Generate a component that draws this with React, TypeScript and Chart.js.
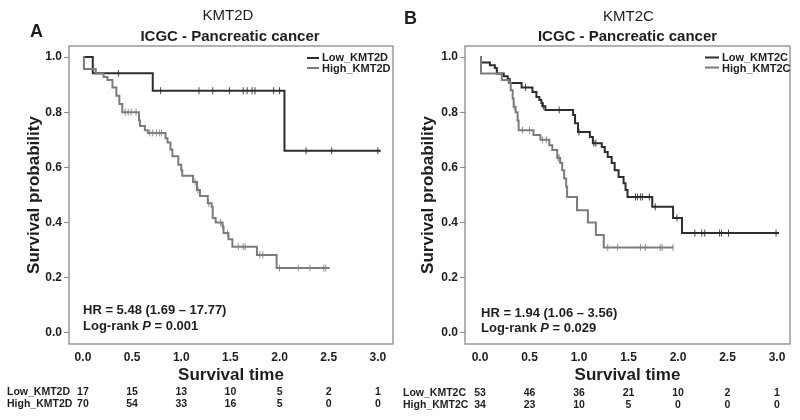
import React, { useEffect, useRef } from "react";
import { Chart, registerables } from "chart.js";

Chart.register(...registerables);

// ---------- shared axis ticks ----------
const TIME_TICKS = [0, 0.5, 1.0, 1.5, 2.0, 2.5, 3.0];
const PROB_TICKS = [0, 0.2, 0.4, 0.6, 0.8, 1.0];

// ---------- Panel A : KMT2D ----------
const KMT2D_LOW_T = [0, 0.1, 0.71, 2.05, 3.03];
const KMT2D_LOW_S = [1.0, 0.941, 0.878, 0.66, 0.66];
const KMT2D_LOW_CENSOR = [0.36, 0.79, 1.18, 1.32, 1.49, 1.63, 1.67, 1.72, 1.75, 1.94, 2.0, 2.27, 2.53, 3.0];

const KMT2D_HIGH_T = [0, 0.01, 0.13, 0.21, 0.25, 0.3, 0.34, 0.37, 0.4, 0.57, 0.58, 0.63, 0.66, 0.84, 0.86, 0.89, 0.91, 0.97, 1.0, 1.01, 1.12, 1.16, 1.19, 1.27, 1.31, 1.32, 1.35, 1.42, 1.43, 1.48, 1.52, 1.77, 1.97, 2.51];
const KMT2D_HIGH_S = [1.0, 0.957, 0.94, 0.928, 0.917, 0.89, 0.86, 0.83, 0.8, 0.77, 0.75, 0.735, 0.725, 0.706, 0.69, 0.665, 0.64, 0.61, 0.59, 0.57, 0.547, 0.518, 0.496, 0.47, 0.457, 0.417, 0.4, 0.385, 0.362, 0.34, 0.312, 0.283, 0.235, 0.235];
const KMT2D_HIGH_CENSOR = [0.43, 0.46, 0.49, 0.54, 0.68, 0.71, 0.75, 0.78, 0.8, 1.14, 1.17, 1.28, 1.4, 1.425, 1.47, 1.58, 1.63, 1.65, 1.8, 1.83, 2.0, 2.19, 2.31, 2.45, 2.47];

const KMT2D_RISK_LOW = [17, 15, 13, 10, 5, 2, 1];
const KMT2D_RISK_HIGH = [70, 54, 33, 16, 5, 0, 0];

// ---------- Panel B : KMT2C ----------
const KMT2C_LOW_T = [0, 0.01, 0.1, 0.15, 0.17, 0.24, 0.28, 0.3, 0.42, 0.53, 0.57, 0.6, 0.62, 0.63, 0.66, 0.94, 0.96, 0.99, 1.11, 1.14, 1.23, 1.26, 1.29, 1.33, 1.36, 1.4, 1.45, 1.47, 1.49, 1.74, 1.95, 2.04, 3.02];
const KMT2C_LOW_S = [1.0, 0.98, 0.97, 0.96, 0.94, 0.93, 0.92, 0.906, 0.89, 0.873, 0.855, 0.844, 0.833, 0.822, 0.808, 0.79, 0.76, 0.728, 0.71, 0.688, 0.674, 0.656, 0.638, 0.616, 0.59, 0.565, 0.543, 0.518, 0.493, 0.457, 0.417, 0.362, 0.362];
const KMT2C_LOW_CENSOR = [0.46, 0.64, 0.8, 1.0, 1.15, 1.17, 1.57, 1.59, 1.62, 1.64, 1.71, 1.77, 1.99, 2.17, 2.24, 2.27, 2.42, 2.44, 2.51, 2.99];

const KMT2C_HIGH_T = [0, 0.01, 0.22, 0.29, 0.31, 0.33, 0.34, 0.36, 0.38, 0.39, 0.54, 0.61, 0.7, 0.73, 0.78, 0.81, 0.83, 0.85, 0.87, 0.88, 0.98, 1.09, 1.17, 1.25, 1.95];
const KMT2C_HIGH_S = [1.0, 0.94, 0.917, 0.906, 0.88, 0.85, 0.82, 0.8, 0.77, 0.735, 0.717, 0.7, 0.68, 0.663, 0.634, 0.616, 0.59, 0.56, 0.53, 0.493, 0.445, 0.4, 0.355, 0.31, 0.31];
const KMT2C_HIGH_CENSOR = [0.345, 0.43, 0.5, 0.63, 0.67, 0.79, 0.8, 1.29, 1.39, 1.62, 1.67, 1.82, 1.84, 1.95];

const KMT2C_RISK_LOW = [53, 46, 36, 21, 10, 2, 1];
const KMT2C_RISK_HIGH = [34, 23, 10, 5, 0, 0, 0];

// ---------- styles ----------
const FONT = "'Liberation Sans', Arial, Helvetica, sans-serif";
const LOW_COLOR = "#2d2d2d";
const HIGH_COLOR = "#7c7c7c";
const BOX_COLOR = "#8a8a8a";
const TEXT_COLOR = "#1e1e1e";

type Panel = {
  letter: string;
  letterPos: [number, number];
  gene: string;
  genePos: [number, number];
  subtitlePos: [number, number];
  lowLabel: string;
  highLabel: string;
  lowT: number[];
  lowS: number[];
  lowCensor: number[];
  highT: number[];
  highS: number[];
  highCensor: number[];
  riskLow: number[];
  riskHigh: number[];
  hr: string;
  p: string;
  hrPos: [number, number, number];
  legend: { lineX: [number, number]; textX: number; y: [number, number] };
  riskLabelX: number;
  riskY: [number, number];
  xMin: number;
  xMax: number;
  padLeft: number;
  padRight: number;
  yWidth: number;
};

const PANELS: Panel[] = [
  {
    letter: "A",
    letterPos: [36.5, 32],
    gene: "KMT2D",
    genePos: [228, 15.5],
    subtitlePos: [230, 37],
    lowLabel: "Low_KMT2D",
    highLabel: "High_KMT2D",
    lowT: KMT2D_LOW_T,
    lowS: KMT2D_LOW_S,
    lowCensor: KMT2D_LOW_CENSOR,
    highT: KMT2D_HIGH_T,
    highS: KMT2D_HIGH_S,
    highCensor: KMT2D_HIGH_CENSOR,
    riskLow: KMT2D_RISK_LOW,
    riskHigh: KMT2D_RISK_HIGH,
    hr: "HR = 5.48 (1.69 \u2013 17.77)",
    p: "0.001",
    hrPos: [83, 310, 326],
    legend: { lineX: [307, 319], textX: 322, y: [58, 69] },
    riskLabelX: 7,
    riskY: [392, 404.5],
    xMin: -0.142,
    xMax: 3.154,
    padLeft: 24,
    padRight: 7,
    yWidth: 45,
  },
  {
    letter: "B",
    letterPos: [10.5, 19],
    gene: "KMT2C",
    genePos: [228.5, 17],
    subtitlePos: [227.5, 37],
    lowLabel: "Low_KMT2C",
    highLabel: "High_KMT2C",
    lowT: KMT2C_LOW_T,
    lowS: KMT2C_LOW_S,
    lowCensor: KMT2C_LOW_CENSOR,
    highT: KMT2C_HIGH_T,
    highS: KMT2C_HIGH_S,
    highCensor: KMT2C_HIGH_CENSOR,
    riskLow: KMT2C_RISK_LOW,
    riskHigh: KMT2C_RISK_HIGH,
    hr: "HR = 1.94 (1.06 \u2013 3.56)",
    p: "0.029",
    hrPos: [81, 313, 328],
    legend: { lineX: [305, 319], textX: 322, y: [57.5, 68.5] },
    riskLabelX: 3,
    riskY: [393, 405],
    xMin: -0.1515,
    xMax: 3.131,
    padLeft: 18.3,
    padRight: 10,
    yWidth: 46.7,
  },
];

function stepAt(T: number[], S: number[], t: number): number {
  let v = S[0];
  for (let i = 0; i < T.length; i++) if (T[i] <= t) v = S[i];
  return v;
}

function curve(T: number[], S: number[]) {
  return T.map((t, i) => ({ x: t, y: S[i] }));
}

function censorPts(T: number[], S: number[], C: number[]) {
  return C.map((t) => ({ x: t, y: stepAt(T, S, t) }));
}

function txt(
  ctx: CanvasRenderingContext2D,
  s: string,
  x: number,
  y: number,
  font: string,
  align: CanvasTextAlign = "left",
  color = TEXT_COLOR
) {
  ctx.font = font;
  ctx.textAlign = align;
  ctx.textBaseline = "middle";
  ctx.fillStyle = color;
  ctx.fillText(s, x, y);
}

function makeOverlay(p: Panel) {
  return {
    id: "kmOverlay",
    beforeDatasetsDraw(chart: any) {
      const { ctx, chartArea: a } = chart;
      ctx.save();
      ctx.strokeStyle = BOX_COLOR;
      ctx.lineWidth = 1.3;
      ctx.strokeRect(a.left, a.top, a.right - a.left, a.bottom - a.top);
      ctx.restore();
    },
    afterDraw(chart: any) {
      const ctx: CanvasRenderingContext2D = chart.ctx;
      const xs = chart.scales.x;
      ctx.save();
      // panel letter and titles
      txt(ctx, p.letter, p.letterPos[0], p.letterPos[1], `bold 18px ${FONT}`, "center");
      txt(ctx, p.gene, p.genePos[0], p.genePos[1], `15px ${FONT}`, "center");
      txt(ctx, "ICGC - Pancreatic cancer", p.subtitlePos[0], p.subtitlePos[1], `bold 15px ${FONT}`, "center");

      // legend
      const lg = p.legend;
      ctx.lineWidth = 2;
      ctx.strokeStyle = LOW_COLOR;
      ctx.beginPath();
      ctx.moveTo(lg.lineX[0], lg.y[0]);
      ctx.lineTo(lg.lineX[1], lg.y[0]);
      ctx.stroke();
      ctx.strokeStyle = HIGH_COLOR;
      ctx.beginPath();
      ctx.moveTo(lg.lineX[0], lg.y[1] - 1);
      ctx.lineTo(lg.lineX[1], lg.y[1] - 1);
      ctx.stroke();
      txt(ctx, p.lowLabel, lg.textX, lg.y[0], `bold 11px ${FONT}`);
      txt(ctx, p.highLabel, lg.textX, lg.y[1], `bold 11px ${FONT}`);

      // HR and log-rank annotation
      const f = `bold 13px ${FONT}`;
      txt(ctx, p.hr, p.hrPos[0], p.hrPos[1], f);
      let x = p.hrPos[0];
      ctx.font = f;
      const s1 = "Log-rank ";
      txt(ctx, s1, x, p.hrPos[2], f);
      x += ctx.measureText(s1).width;
      const fi = `italic bold 13px ${FONT}`;
      txt(ctx, "P", x, p.hrPos[2], fi);
      ctx.font = fi;
      x += ctx.measureText("P").width;
      txt(ctx, " = " + p.p, x, p.hrPos[2], f);

      // number-at-risk table
      const rf = `bold 10.5px ${FONT}`;
      txt(ctx, p.lowLabel, p.riskLabelX, p.riskY[0], rf);
      txt(ctx, p.highLabel, p.riskLabelX, p.riskY[1], rf);
      TIME_TICKS.forEach((t, i) => {
        const px = xs.getPixelForValue(t);
        txt(ctx, String(p.riskLow[i]), px, p.riskY[0], rf, "center");
        txt(ctx, String(p.riskHigh[i]), px, p.riskY[1], rf, "center");
      });
      ctx.restore();
    },
  };
}

function KMPanel({ p }: { p: Panel }) {
  const ref = useRef<HTMLCanvasElement | null>(null);
  useEffect(() => {
    if (!ref.current) return;
    const chart = new Chart(ref.current, {
      type: "scatter",
      data: {
        datasets: [
          {
            label: p.highLabel,
            data: curve(p.highT, p.highS),
            showLine: true,
            stepped: "before",
            borderColor: HIGH_COLOR,
            borderWidth: 2,
            pointRadius: 0,
          },
          {
            label: p.highLabel + " censored",
            data: censorPts(p.highT, p.highS, p.highCensor),
            showLine: false,
            pointStyle: "line",
            rotation: 90,
            pointRadius: 3.5,
            borderWidth: 1,
            borderColor: "#909090",
            backgroundColor: "#909090",
          },
          {
            label: p.lowLabel,
            data: curve(p.lowT, p.lowS),
            showLine: true,
            stepped: "before",
            borderColor: LOW_COLOR,
            borderWidth: 2,
            pointRadius: 0,
          },
          {
            label: p.lowLabel + " censored",
            data: censorPts(p.lowT, p.lowS, p.lowCensor),
            showLine: false,
            pointStyle: "line",
            rotation: 90,
            pointRadius: 3.5,
            borderWidth: 1,
            borderColor: "#444444",
            backgroundColor: "#444444",
          },
        ],
      } as any,
      options: {
        responsive: false,
        animation: false,
        events: [],
        devicePixelRatio: 1,
        layout: {
          padding: { left: p.padLeft, right: p.padRight, top: 46, bottom: 34.8 },
        },
        plugins: {
          legend: { display: false },
          tooltip: { enabled: false },
          title: { display: false },
        },
        scales: {
          x: {
            type: "linear",
            min: p.xMin,
            max: p.xMax,
            afterBuildTicks: (axis: any) => {
              axis.ticks = TIME_TICKS.map((v) => ({ value: v }));
            },
            afterFit: (s: any) => {
              s.height = 41.2;
            },
            grid: { display: false, drawTicks: false },
            border: { display: false },
            ticks: {
              padding: 6,
              color: TEXT_COLOR,
              font: { family: FONT, size: 12, weight: "bold" },
              callback: (v: any) => Number(v).toFixed(1),
              maxRotation: 0,
              autoSkip: false,
            },
            title: {
              display: true,
              text: "Survival time",
              color: TEXT_COLOR,
              padding: 0,
              font: { family: FONT, size: 17, weight: "bold", lineHeight: 1.2 },
            },
          },
          y: {
            type: "linear",
            min: -0.04,
            max: 1.04,
            afterBuildTicks: (axis: any) => {
              axis.ticks = PROB_TICKS.map((v) => ({ value: v }));
            },
            afterFit: (s: any) => {
              s.width = p.yWidth;
            },
            grid: {
              display: true,
              drawOnChartArea: false,
              drawTicks: true,
              tickLength: 5,
              color: BOX_COLOR,
              lineWidth: 1,
            },
            border: { display: false },
            ticks: {
              padding: 2,
              color: TEXT_COLOR,
              font: { family: FONT, size: 12, weight: "bold" },
              callback: (v: any) => Number(v).toFixed(1),
              autoSkip: false,
            },
            title: {
              display: true,
              text: "Survival probability",
              color: TEXT_COLOR,
              padding: 0,
              font: { family: FONT, size: 17, weight: "bold", lineHeight: 1.2 },
            },
          },
        },
      } as any,
      plugins: [makeOverlay(p)],
    });
    return () => chart.destroy();
  }, [p]);
  return <canvas ref={ref} width={400} height={420} style={{ display: "block", width: 400, height: 420 }} />;
}

export default function App() {
  return (
    <div
      style={{
        position: "absolute",
        left: 0,
        top: 0,
        width: 800,
        height: 420,
        display: "flex",
        background: "#ffffff",
      }}
    >
      {PANELS.map((p) => (
        <KMPanel key={p.letter} p={p} />
      ))}
    </div>
  );
}
